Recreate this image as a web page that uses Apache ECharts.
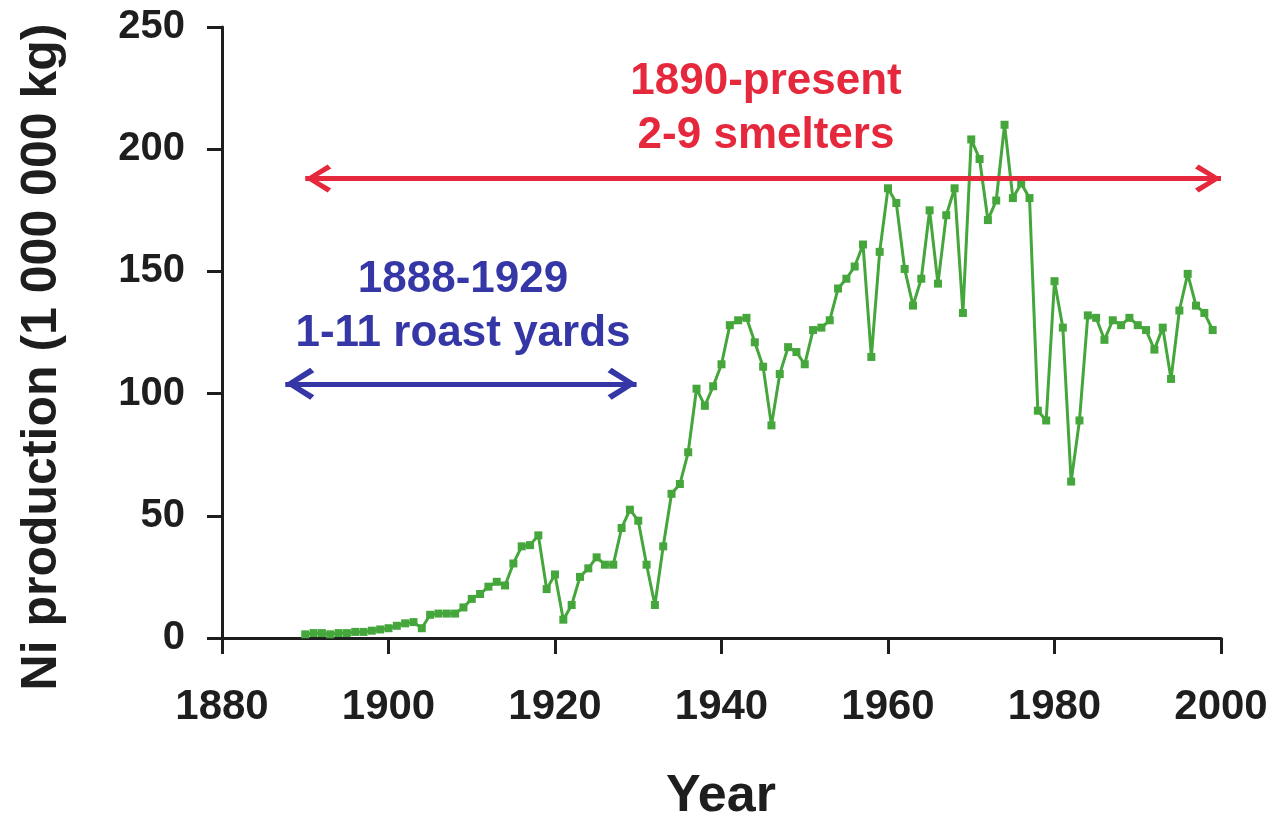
<!DOCTYPE html>
<html>
<head>
<meta charset="utf-8">
<script src="https://cdn.jsdelivr.net/npm/echarts@6/dist/echarts.min.js"></script>
<style>
html,body{margin:0;padding:0;background:#fff;}
#chart{width:1278px;height:828px;}
</style>
</head>
<body>
<div id="chart"></div>
<script>
// ---- data ----
var years = [1890,1891,1892,1893,1894,1895,1896,1897,1898,1899,
  1900,1901,1902,1903,1904,1905,1906,1907,1908,1909,
  1910,1911,1912,1913,1914,1915,1916,1917,1918,1919,
  1920,1921,1922,1923,1924,1925,1926,1927,1928,1929,
  1930,1931,1932,1933,1934,1935,1936,1937,1938,1939,
  1940,1941,1942,1943,1944,1945,1946,1947,1948,1949,
  1950,1951,1952,1953,1954,1955,1956,1957,1958,1959,
  1960,1961,1962,1963,1964,1965,1966,1967,1968,1969,
  1970,1971,1972,1973,1974,1975,1976,1977,1978,1979,
  1980,1981,1982,1983,1984,1985,1986,1987,1988,1989,
  1990,1991,1992,1993,1994,1995,1996,1997,1998,1999];
var niProduction = [1.5,2,2,1.5,2,2,2.5,2.5,3,3.5,
  4,5,6,6.5,4,9.5,10,10,10,12.5,
  16,18,21,23,21.5,30.5,37.5,38,42,20,
  26,7.5,13.5,25,28.5,33,30,30,45,52.5,
  48,30,13.5,37.5,59,63,76,102,95,103,
  112,128,130,131,121,111,87,108,119,117,
  112,126,127,130,143,147,152,161,115,158,
  184,178,151,136,147,175,145,173,184,133,
  204,196,171,179,210,180,186,180,93,89,
  146,127,64,89,132,131,122,130,128,131,
  128,126,118,127,106,134,149,136,133,126];
var xTicks = [1880,1900,1920,1940,1960,1980,2000];
var yTicks = [0,50,100,150,200,250];
// annotation arrows (data coordinates)
var smelterSpan = [1890, 2000];
var smelterLevel = 188;
var roastSpan = [1887.6, 1929.8];
var roastLevel = 104;

var FONT = '"Liberation Sans", Arial, Helvetica, sans-serif';
var RED = '#e6283c';
var BLUE = '#3637a6';
var GREEN = '#45a63b';
var INK = '#1e1e1e';

// open chevron pointing "up", tip at symbol centre (invisible moveTo balances bbox)
var CHEVRON = 'path://M50,-100 M50,0 L100,86 L86,100 L50,34 L14,100 L0,86 Z';

var chart = echarts.init(document.getElementById('chart'), null, {renderer:'canvas'});
var seriesData = years.map(function(y,i){ return [y, niProduction[i]]; });

chart.setOption({
  animation: false,
  backgroundColor: '#ffffff',
  grid: {left: 222, right: 57, top: 27, bottom: 190, containLabel: false},
  xAxis: {
    type: 'value', min: xTicks[0], max: xTicks[xTicks.length-1], interval: 20,
    axisLine: {show: true, onZero: false, lineStyle: {color: INK, width: 3}},
    axisTick: {show: true, inside: false, length: 16, lineStyle: {color: INK, width: 3}},
    splitLine: {show: false},
    axisLabel: {margin: 48, fontFamily: FONT, fontWeight: 'bold', fontSize: 42, color: INK,
      formatter: function(v){ return String(v); }}
  },
  yAxis: {
    type: 'value', min: yTicks[0], max: yTicks[yTicks.length-1], interval: 50,
    axisLine: {show: true, lineStyle: {color: INK, width: 3}},
    axisTick: {show: true, inside: false, length: 15, lineStyle: {color: INK, width: 3}},
    splitLine: {show: false},
    axisLabel: {margin: 37, fontFamily: FONT, fontWeight: 'bold', fontSize: 40, color: INK}
  },
  series: [
    {
      type: 'line', data: [], z: 2, clip: false, silent: true,
      markLine: {
        silent: true, animation: false,
        symbol: [CHEVRON, CHEVRON], symbolSize: [28, 52],
        label: {show: false},
        lineStyle: {color: RED, width: 5, type: 'solid'},
        emphasis: {disabled: true},
        data: [[{coord: [smelterSpan[0], smelterLevel]}, {coord: [smelterSpan[1], smelterLevel]}]]
      }
    },
    {
      type: 'line', data: [], z: 2, clip: false, silent: true,
      markLine: {
        silent: true, animation: false,
        symbol: [CHEVRON, CHEVRON], symbolSize: [32, 58],
        label: {show: false},
        lineStyle: {color: BLUE, width: 5, type: 'solid'},
        emphasis: {disabled: true},
        data: [[{coord: [roastSpan[0], roastLevel]}, {coord: [roastSpan[1], roastLevel]}]]
      }
    },
    {
      type: 'line', data: seriesData, z: 3,
      symbol: 'rect', symbolSize: 8, showSymbol: true,
      lineStyle: {color: GREEN, width: 3},
      itemStyle: {color: GREEN},
      emphasis: {disabled: true}
    }
  ],
  graphic: [
    {type: 'text', x: 42, y: 357, rotation: Math.PI/2, silent: true,
     style: {text: 'Ni production (1 000 000 kg)', fontFamily: FONT, fontWeight: 'bold', fontSize: 50,
       fill: INK, align: 'center', verticalAlign: 'middle'}},
    {type: 'text', x: 721, y: 797, silent: true,
     style: {text: 'Year', fontFamily: FONT, fontWeight: 'bold', fontSize: 52,
       fill: INK, align: 'center', verticalAlign: 'middle'}},
    {type: 'text', x: 766, y: 82, silent: true,
     style: {text: '1890-present', fontFamily: FONT, fontWeight: 'bold', fontSize: 44,
       fill: RED, align: 'center', verticalAlign: 'middle'}},
    {type: 'text', x: 766, y: 136, silent: true,
     style: {text: '2-9 smelters', fontFamily: FONT, fontWeight: 'bold', fontSize: 44,
       fill: RED, align: 'center', verticalAlign: 'middle'}},
    {type: 'text', x: 463, y: 280, silent: true,
     style: {text: '1888-1929', fontFamily: FONT, fontWeight: 'bold', fontSize: 44,
       fill: BLUE, align: 'center', verticalAlign: 'middle'}},
    {type: 'text', x: 463, y: 334, silent: true,
     style: {text: '1-11 roast yards', fontFamily: FONT, fontWeight: 'bold', fontSize: 44,
       fill: BLUE, align: 'center', verticalAlign: 'middle'}}
  ]
});
</script>
</body>
</html>
